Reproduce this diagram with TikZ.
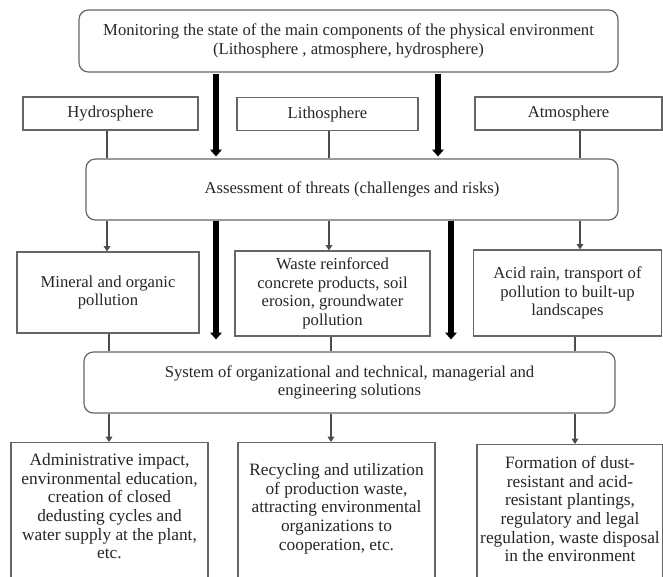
\documentclass[tikz,border=0pt]{standalone}
\usepackage{fontspec}
\setmainfont{Liberation Serif}
\usepackage{xcolor}
\usepackage{tikz}
\usetikzlibrary{arrows.meta, positioning, calc}

\begin{document}
\begin{tikzpicture}[x=0.75pt, y=-0.75pt,
  box/.style={draw=black!60, line width=0.9pt, text=black!85, align=center, inner sep=2pt, font=\fontsize{12.5}{14}\selectfont},
  rbox/.style={box, rounded corners=7pt},
  openbox/.style={box, anchor=north, text depth=40pt, font=\fontsize{13}{14}\selectfont},
  link/.style={draw=black!70, line width=0.8pt},
  arr/.style={link, -{Triangle[width=5pt, length=4pt]}},
  fat/.style={line width=4.5pt, -{Triangle[width=8.5pt, length=5pt]}}]

\useasboundingbox (0,0) rectangle (663,576);

% Box sizes

\def\rowheight{24.75pt}
\def\wideheight{45.75pt}

\node[rbox, minimum width=404.25pt, minimum height=46.5pt]
(mon) at (348.5,41) {Monitoring the state of the main components of the physical environment\\(Lithosphere , atmosphere, hydrosphere)};

\node[box, minimum width=131.25pt, minimum height=\rowheight] (hyd) at (110.5,113.5) {Hydrosphere};
\node[box, minimum width=135.75pt, minimum height=\rowheight] (lit) at (327.5,114) {Lithosphere};
\node[box, minimum width=140.25pt, minimum height=\rowheight] (atm) at (568.5,113.5) {Atmosphere};

\node[rbox, minimum width=399pt, minimum height=\wideheight]
(ass) at (352,189.5) {Assessment of threats (challenges and risks)};

\node[box, minimum width=136.5pt, minimum height=60.75pt] (min) at (108,292.5) {Mineral and organic\\pollution};
\node[box, minimum width=146.25pt, minimum height=63.75pt] (was) at (332.5,293.5) {Waste reinforced\\concrete products, soil\\erosion, groundwater\\pollution};
\node[box, minimum width=141pt, minimum height=64.5pt] (acd) at (567.5,293) {Acid rain, transport of\\pollution to built-up\\landscapes};

\node[rbox, minimum width=398.25pt, minimum height=\wideheight]
(sys) at (349.5,382.5) {System of organizational and technical, managerial and\\engineering solutions};

% Open boxes run past the lower edge
\node[openbox, minimum width=147.75pt, text height=85.25pt] (adm) at (109.5,442) {Administrative impact,\\environmental education,\\creation of closed\\dedusting cycles and\\water supply at the plant,\\etc.};
\node[openbox, minimum width=147.75pt, text height=78.75pt] (rec) at (336.5,442) {Recycling and utilization\\of production waste,\\attracting environmental\\organizations to\\cooperation, etc.};
\node[openbox, minimum width=139.5pt, text height=86pt] (frm) at (570,444) {Formation of dust-\\resistant and acid-\\resistant plantings,\\regulatory and legal\\regulation, waste disposal\\in the environment};

% Column positions
\coordinate (u1) at (107,0);
\coordinate (u2) at (329,0);
\coordinate (u3) at (580,0);
\coordinate (l1) at (109,0);
\coordinate (l2) at (331,0);
\coordinate (l3) at (575,0);
\coordinate (t1) at (216,0);
\coordinate (t2) at (438,0);
\coordinate (t3) at (451,0);

% Spheres into assessment
\draw[link] (hyd.south -| u1) -- (ass.north -| u1);
\draw[link] (lit.south -| u2) -- (ass.north -| u2);
\draw[link] (atm.south -| u3) -- (ass.north -| u3);

\draw[arr] (ass.south -| u1) -- (min.north -| u1);
\draw[arr] (ass.south -| u2) -- (was.north -| u2);
\draw[arr] (ass.south -| u3) -- (acd.north -| u3);

% Threats into system
\draw[link] (min.south -| l1) -- (sys.north -| l1);
\draw[link] (was.south -| l2) -- (sys.north -| l2);
\draw[link] (acd.south -| l3) -- (sys.north -| l3);

\draw[arr] (sys.south -| l1) -- (adm.north -| l1);
\draw[arr] (sys.south -| l2) -- (rec.north -| l2);
\draw[arr] (sys.south -| l3) -- (frm.north -| l3);

% Thick arrows
\draw[fat, shorten <=1pt, shorten >=1.5pt] (mon.south -| t1) -- (ass.north -| t1);
\draw[fat, shorten <=1pt, shorten >=1.5pt] (mon.south -| t2) -- (ass.north -| t2);
\draw[fat, shorten >=9pt] (ass.south -| t1) -- (sys.north -| t1);
\draw[fat, shorten >=9pt] (ass.south -| t3) -- (sys.north -| t3);

\end{tikzpicture}
\end{document}
